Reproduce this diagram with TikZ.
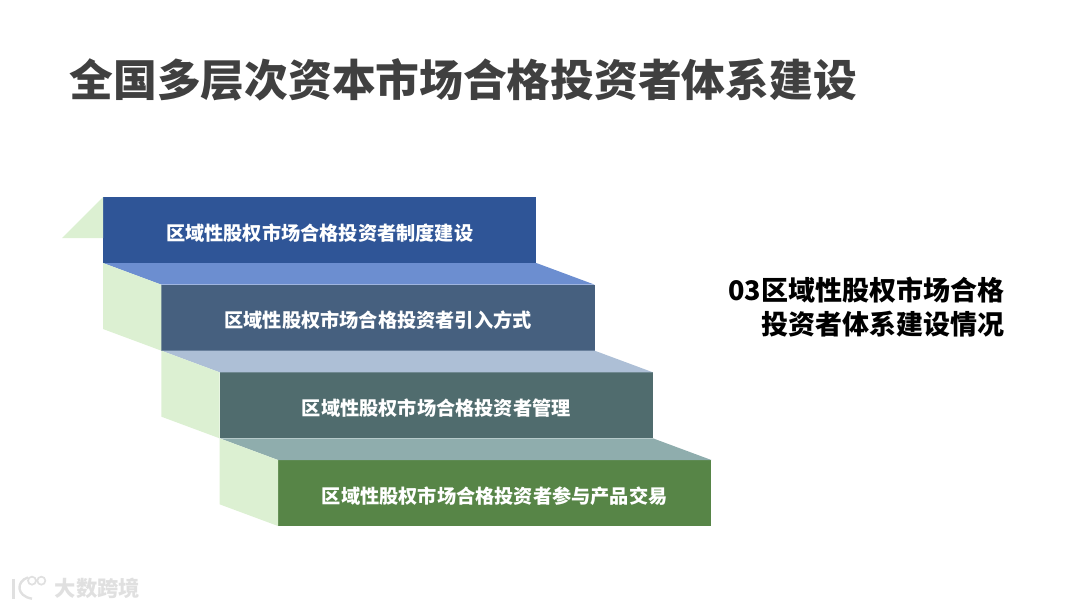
\documentclass[tikz,border=0pt]{standalone}
\usepackage{fontspec}
\setmainfont{Noto Sans CJK SC}
\usetikzlibrary{positioning}
\definecolor{sidegreen}{HTML}{DCF0D2}
\definecolor{stepa}{HTML}{2F5597}
\definecolor{stepb}{HTML}{46607F}
\definecolor{stepc}{HTML}{506C6E}
\definecolor{stepd}{HTML}{578547}
\definecolor{topb}{HTML}{6C8ED0}
\definecolor{topc}{HTML}{ADBFD6}
\definecolor{topd}{HTML}{8FADAD}
\definecolor{titlegray}{HTML}{404040}
\definecolor{markgray}{HTML}{E0E0E0}

\begin{document}
\begin{tikzpicture}[
        stepbox/.style={rectangle, align=center, inner sep=0pt, outer sep=0pt, minimum width=325pt, minimum height=49.5pt, text height=15pt, text depth=0pt, text=white, font=\fontsize{14.4pt}{17pt}\selectfont\bfseries},
        side/.style={fill=sidegreen},
        logoline/.style={markgray, line width=1.8pt}
    ]
    \useasboundingbox (0,0) rectangle (810pt,-456pt);

    \node[anchor=west, text=titlegray, inner sep=0pt, font=\fontsize{32.8pt}{38pt}\selectfont\bfseries] (title) at (52pt,-60pt) {全国多层次资本市场合格投资者体系建设};

    \node[stepbox, fill=stepa, anchor=north west] (stepa) at (77.25pt,-147.75pt) {区域性股权市场合格投资者制度建设};
    \node[stepbox, fill=stepb, below right=16.25pt and -281.25pt of stepa] (stepb) {区域性股权市场合格投资者引入方式};
    \node[stepbox, fill=stepc, below right=16.25pt and -281.25pt of stepb] (stepc) {区域性股权市场合格投资者管理};
    \node[stepbox, fill=stepd, below right=16.25pt and -281.25pt of stepc] (stepd) {区域性股权市场合格投资者参与产品交易};

    % tops
    \fill[topb] (stepa.south west) -- (stepa.south east) -- (stepb.north east) -- (stepb.north west) -- cycle;
    \fill[topc] (stepb.south west) -- (stepb.south east) -- (stepc.north east) -- (stepc.north west) -- cycle;
    \fill[topd] (stepc.south west) -- (stepc.south east) -- (stepd.north east) -- (stepd.north west) -- cycle;

    % sides
    \fill[side] (stepa.north west) -- ++(0,-30.75pt) -- ++(-30.75pt,0) -- cycle;
    \fill[side] (stepa.south west) -- (stepb.north west) -- (stepb.south west) -- ++(-43.75pt,16.25pt) -- cycle;
    \fill[side] (stepb.south west) -- (stepc.north west) -- (stepc.south west) -- ++(-43.75pt,16.25pt) -- cycle;
    \fill[side] (stepc.south west) -- (stepd.north west) -- (stepd.south west) -- ++(-43.75pt,16.25pt) -- cycle;

    \node[anchor=east, align=right, inner sep=0pt, text=black, font=\fontsize{20.25pt}{25.5pt}\selectfont\bfseries] (note) at (753.5pt,-230.5pt) {03区域性股权市场合格\\投资者体系建设情况};

    % watermark
    \node[anchor=west, inner sep=0pt, text=markgray, font=\fontsize{16pt}{18pt}\selectfont\bfseries] (mark) at (41pt,-441pt) {大数跨境};
    \draw[logoline] (10pt,-434pt) -- (10pt,-449pt);
    \draw[logoline] (21pt,-433pt) .. controls (12pt,-436pt) and (12pt,-447pt) .. (24pt,-449pt);
    \draw[logoline, line width=1.3pt] (24pt,-435.5pt) circle (3pt) (31pt,-435.5pt) circle (3pt);
\end{tikzpicture}
\end{document}
